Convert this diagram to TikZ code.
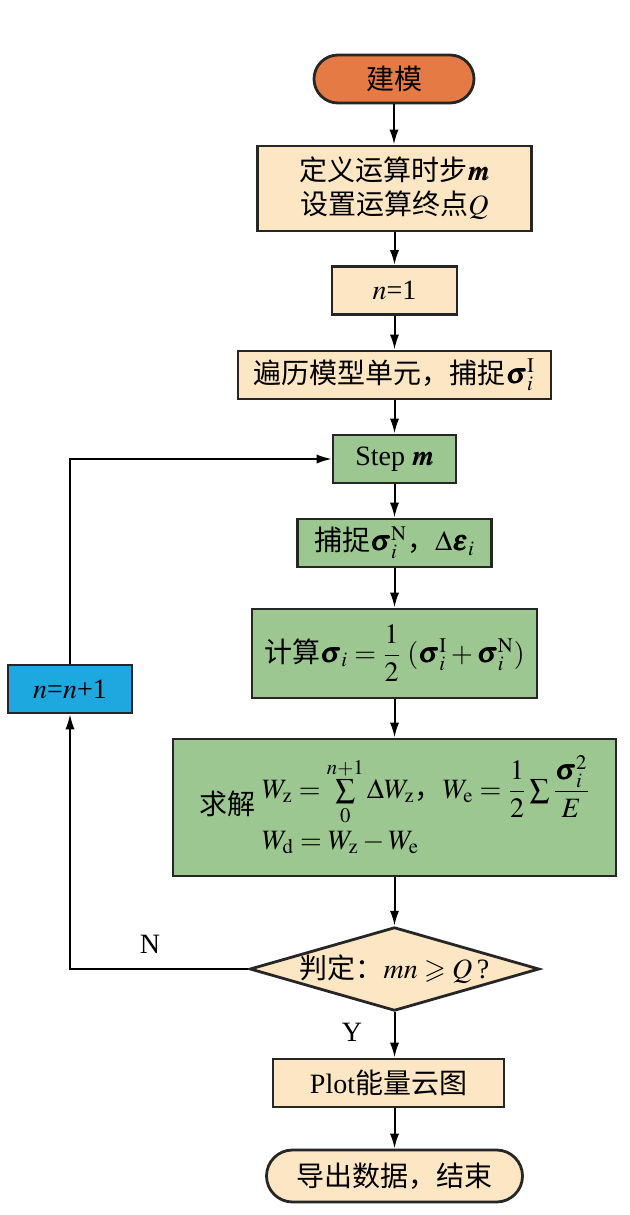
\documentclass[tikz,border=0pt]{standalone}
\usepackage{mathptmx}
\usepackage{amsmath,amssymb}
\usepackage{bm}
\usepackage{fontspec}
\setmainfont{Liberation Serif}
\newfontfamily\cjk{Noto Sans CJK SC}
\usetikzlibrary{arrows.meta,shapes.geometric,positioning}

\definecolor{startorange}{HTML}{E57A44}
\definecolor{boxbeige}{HTML}{FCE6C3}
\definecolor{boxgreen}{HTML}{9CC791}
\definecolor{loopblue}{HTML}{1DA8E0}

\tikzset{
    base/.style={draw=black!85,line width=1.4pt,inner sep=0pt,align=center,
        font=\fontsize{14}{17}\selectfont},
    term/.style={base,rounded corners=12pt,minimum height=24pt},
    proc/.style={base,minimum height=24pt},
    decide/.style={base,diamond,aspect=3.46,fill=boxbeige},
    flow/.style={-{Latex[length=7.5pt,width=4.6pt]},line width=1pt},
    back/.style={-{Latex[length=7.5pt,width=4.6pt]},line width=0.8pt},
}

\begin{document}
\begin{tikzpicture}[x=0.5pt,y=-0.5pt]
    \useasboundingbox (0,0) rectangle (629,1215);
    % main column
    \node[term,fill=startorange,minimum width=80pt] (start) at (394,79) {\cjk 建模};
    \node[proc,fill=boxbeige,minimum width=137pt,minimum height=42.5pt] (def) at (394.5,188.5)
        {{\cjk 定义运算时步}$\bm{m}$\\{\cjk 设置运算终点}$Q$};
    \node[proc,fill=boxbeige,minimum width=62.5pt] (ninit) at (394.5,290.5) {$n$=1};
    \node[proc,fill=boxbeige,minimum width=156.5pt] (trav) at (394.5,375)
        {{\cjk 遍历模型单元，捕捉}$\bm{\sigma}_i^{\mathrm{I}}$};
    \node[proc,fill=boxgreen,minimum width=61.5pt] (step) at (394.5,459) {Step $\bm{m}$};
    \node[proc,fill=boxgreen,minimum width=97pt] (capt) at (394.5,543)
        {{\cjk 捕捉}$\bm{\sigma}_i^{\mathrm{N}}${\cjk ，}$\Delta\bm{\varepsilon}_i$};
    \node[proc,fill=boxgreen,minimum width=142.5pt,minimum height=44.5pt] (calc) at (394.5,653.5)
        {{\cjk 计算}$\bm{\sigma}_i=\dfrac{1}{2}\;(\bm{\sigma}_i^{\mathrm{I}}+\bm{\sigma}_i^{\mathrm{N}})$};
    \node[proc,fill=boxgreen,minimum width=221.5pt,minimum height=68.5pt] (solve) at (394.5,807.5)
        {{\cjk 求解} $\begin{array}{@{}l@{}}
            W_{\mathrm{z}}=\sum\limits_{0}^{n+1}\Delta W_{\mathrm{z}}\text{\cjk ，}
            W_{\mathrm{e}}=\dfrac{1}{2}\sum\dfrac{\bm{\sigma}_i^{2}}{E}\\[2pt]
            W_{\mathrm{d}}=W_{\mathrm{z}}-W_{\mathrm{e}}
        \end{array}$};
    \node[decide,minimum width=142pt,minimum height=41pt] (judge) at (394.5,969)
        {{\cjk 判定：}$mn\geqslant Q$\,?};
    \node[proc,fill=boxbeige,minimum width=115.5pt] (plot) at (388.5,1083) {Plot{\cjk 能量云图}};
    \node[term,fill=boxbeige,minimum width=128pt,minimum height=26pt,rounded corners=13pt] (finish) at (394.5,1176)
        {\cjk 导出数据，结束};
    % loop box
    \node[proc,fill=loopblue,minimum width=62pt] (inc) at (70,689) {$n$=$n$+1};
    % connectors
    \draw[flow] (start) -- (start |- def.north);
    \draw[flow] (def) -- (ninit);
    \draw[flow] (ninit) -- (trav);
    \draw[flow] (trav) -- (step);
    \draw[flow] (step) -- (capt);
    \draw[flow] (capt) -- (calc);
    \draw[flow] (calc) -- (solve);
    \draw[flow] (solve) -- (judge);
    \draw[flow] (judge.south) -- (judge.south |- plot.north);
    \draw[flow] (judge.south |- plot.south) -- (finish);
    \draw[back] (judge.west) -- (inc.south |- judge.west) -- (inc.south);
    \draw[back] (inc.north) |- (step.west);
    \node[font=\fontsize{14}{17}\selectfont] (nolab) at (150,944) {N};
    \node[font=\fontsize{14}{17}\selectfont] (yeslab) at (352,1032) {Y};
\end{tikzpicture}
\end{document}
